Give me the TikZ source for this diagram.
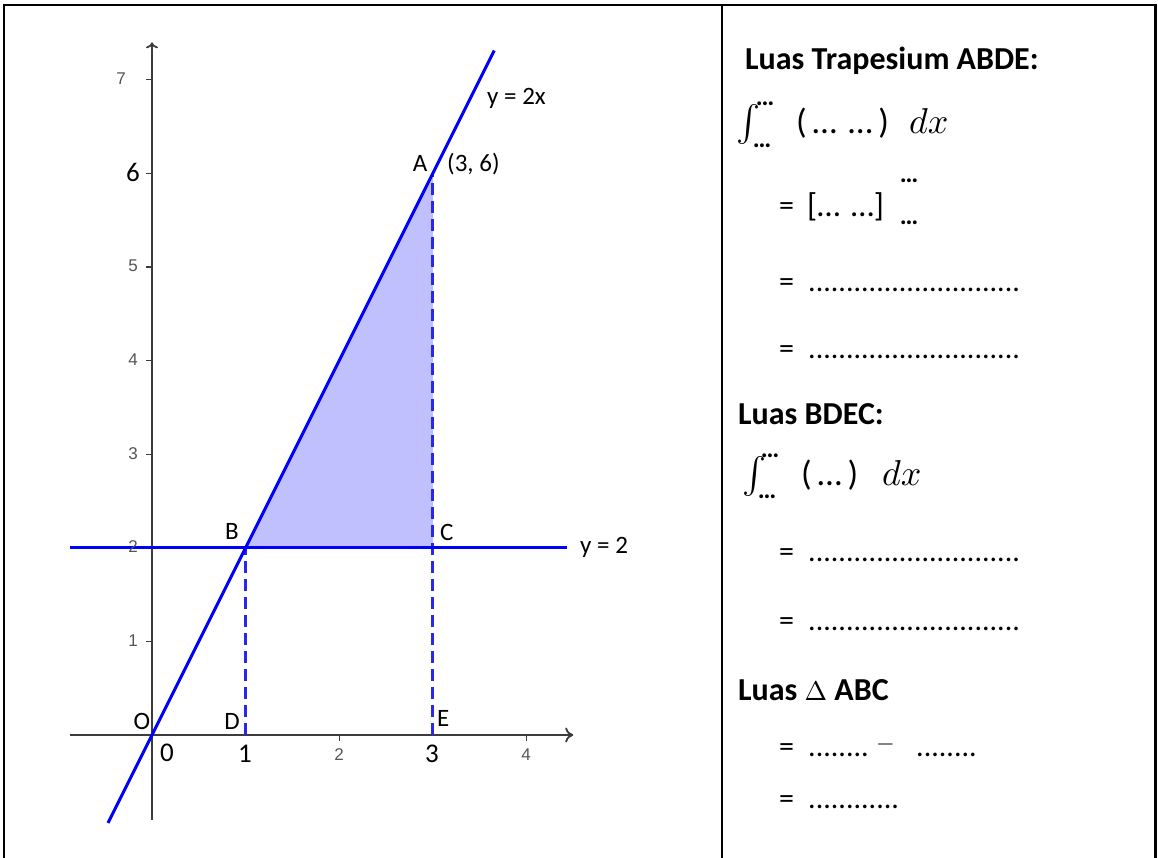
\documentclass[tikz,border=0pt]{standalone}
\usepackage{fix-cm}
\usepackage{fontspec}
\setmainfont{Carlito}
\newfontfamily\axfont{Liberation Sans}
\usetikzlibrary{arrows.meta}
\definecolor{lineblue}{RGB}{0,0,255}
\definecolor{dashblue}{RGB}{40,40,235}
\definecolor{fillblue}{RGB}{192,192,255}
\definecolor{axisgray}{RGB}{60,60,60}
\definecolor{ticklab}{RGB}{85,85,85}
\tikzset{
  frameline/.style={line width=2.5pt, black},
  axisline/.style={line width=1.8pt, axisgray},
  tickline/.style={line width=1.4pt, axisgray},
  blueline/.style={line width=3pt, lineblue},
  dashline/.style={line width=3pt, dashblue, dash pattern=on 12pt off 6pt},
  regionfill/.style={fill=fillblue},
  ptlabel/.style={font=\fontsize{25}{28}\selectfont, inner sep=0pt},
  bignum/.style={font=\fontsize{27}{30}\selectfont, inner sep=0pt},
  smallnum/.style={font=\axfont\fontsize{17}{20}\selectfont, text=ticklab, inner sep=0pt},
  titletext/.style={font=\bfseries\fontsize{32}{34}\selectfont, anchor=west, inner sep=0pt},
  intsign/.style={font=\fontsize{10}{12}\selectfont, anchor=base west, inner sep=0pt},
  limtext/.style={font=\bfseries\fontsize{26}{26}\selectfont, inner sep=0pt},
  midtext/.style={font=\fontsize{35}{37}\selectfont, anchor=base west, inner sep=0pt},
  eqtext/.style={font=\fontsize{30}{32}\selectfont, anchor=base west, inner sep=0pt},
}
\newcommand{\bigmath}[1]{\scalebox{3.6}{$#1$}}
\begin{document}
\begin{tikzpicture}[x=1pt,y=-1pt]
\useasboundingbox (0,0) rectangle (1158,858);
% table frame
\coordinate (tl) at (4,5);
\coordinate (tr) at (1155.5,5);
\coordinate (bl) at (4,858);
\coordinate (br) at (1155.5,858);
\coordinate (mt) at (722,5);
\coordinate (mb) at (722,858);
\draw[frameline] (bl) -- (tl) -- (tr) -- (br);
\draw[frameline] (mt) -- (mb);

% graph
\begin{scope}[shift={(152,735)}, x=93.6pt, y=93.6pt]
  \coordinate (O) at (0,0);
  \coordinate (A) at (3,6);
  \coordinate (B) at (1,2);
  \coordinate (C) at (3,2);
  \coordinate (D) at (1,0);
  \coordinate (E) at (3,0);
  \coordinate (xs) at (-0.876,0);
  \coordinate (xe) at (4.50,0);
  \coordinate (ys) at (0,-0.91);
  \coordinate (ye) at (0,7.40);
  \coordinate (ls) at (-0.47,-0.94);
  \coordinate (le) at (3.656,7.312);
  \coordinate (hs) at (-0.876,2);
  \coordinate (he) at (4.43,2);
  \fill[regionfill] (B) -- (A) -- (C) -- cycle;
  \foreach \k in {1,...,7} {\draw[tickline] (-0.06,\k) -- (0,\k);}
  \foreach \k in {2,4} {\draw[tickline] (\k,0) -- (\k,-0.06);}
  \draw[axisline, -{To[length=8pt,width=15pt,line width=1.8pt]}] (xs) -- (xe);
  \draw[axisline, -{To[length=6pt,width=12pt,line width=1.8pt]}] (ys) -- (ye);
  \draw[dashline] (D) -- (B);
  \draw[dashline] (E) -- (A);
  \draw[blueline] (hs) -- (he);
  \draw[blueline] (ls) -- (le);
\end{scope}

% point labels
\node[ptlabel] (lA) at (420,163) {A};
\node[ptlabel, anchor=west] (lAc) at (447,164) {(3, 6)};
\node[ptlabel, anchor=west] (lline) at (487,98) {y = 2x};
\node[ptlabel] (lB) at (232,531) {B};
\node[ptlabel, anchor=west] (lC) at (440,532) {C};
\node[ptlabel, anchor=west] (lh) at (580,547) {y = 2};
\node[ptlabel] (lO) at (142,721) {O};
\node[ptlabel] (lD) at (232,721) {D};
\node[ptlabel, anchor=west] (lE) at (437,718) {E};

% tick labels
\node[bignum] (x0) at (167,753) {0};
\node[bignum] (x1) at (245,754) {1};
\node[smallnum] (x2) at (339,755) {2};
\node[bignum] (x3) at (432,754) {3};
\node[smallnum] (x4) at (526,755) {4};
\node[smallnum] (y1) at (133,641) {1};
\node[smallnum] (y2) at (133,547) {2};
\node[smallnum] (y3) at (133,454) {3};
\node[smallnum] (y4) at (133,360) {4};
\node[smallnum] (y5) at (133,266) {5};
\node[bignum] (y6) at (133,172) {6};
\node[smallnum] (y7) at (121,79) {7};

% right column: Luas Trapesium ABDE
\node[titletext] (t1) at (745,61) {Luas Trapesium ABDE:};
\node[intsign] (i1) at (736,134) {\bigmath{\int}};
\node[limtext] (i1u) at (765,104) {…};
\node[limtext] (i1l) at (762,146) {…};
\node[midtext] (p1) at (796,134) {(\,…\,\,…\,)};
\node[intsign] (dx1) at (909,134) {\bigmath{dx}};

\node[eqtext] (e1) at (779,216) {=};
\node[midtext, font=\fontsize{33}{35}\selectfont] (b1) at (807,217) {[…\,\,…]};
\node[limtext] (b1u) at (909,181) {…};
\node[limtext] (b1l) at (909,223) {…};

\node[eqtext] (e2) at (779,291) {=};
\node[eqtext] (d2) at (808,291) {............................};
\node[eqtext] (e3) at (779,358) {=};
\node[eqtext] (d3) at (808,358) {............................};

% Luas BDEC
\node[titletext] (t2) at (738,414) {Luas BDEC:};
\node[intsign] (i2) at (742,485) {\bigmath{\int}};
\node[limtext] (i2u) at (770,456) {…};
\node[limtext] (i2l) at (767,497) {…};
\node[midtext] (p2) at (801,485) {(\,…\,)};
\node[intsign] (dx2) at (882,485) {\bigmath{dx}};

\node[eqtext] (e4) at (779,561) {=};
\node[eqtext] (d4) at (808,561) {............................};
\node[eqtext] (e5) at (779,630) {=};
\node[eqtext] (d5) at (808,630) {............................};

% Luas triangle ABC
\node[titletext] (t3) at (738,690) {Luas {\fontsize{10}{12}\selectfont\scalebox{2.7}{$\Delta$}} ABC};
\node[eqtext] (e6) at (779,756) {=};
\node[eqtext] (d6a) at (808,756) {........};
\node[eqtext, font=\fontsize{10}{12}\selectfont] (m6) at (876,750) {\scalebox{2.4}{$-$}};
\node[eqtext] (d6b) at (916,756) {........};
\node[eqtext] (e7) at (779,808) {=};
\node[eqtext] (d7) at (808,808) {............};
\end{tikzpicture}
\end{document}
